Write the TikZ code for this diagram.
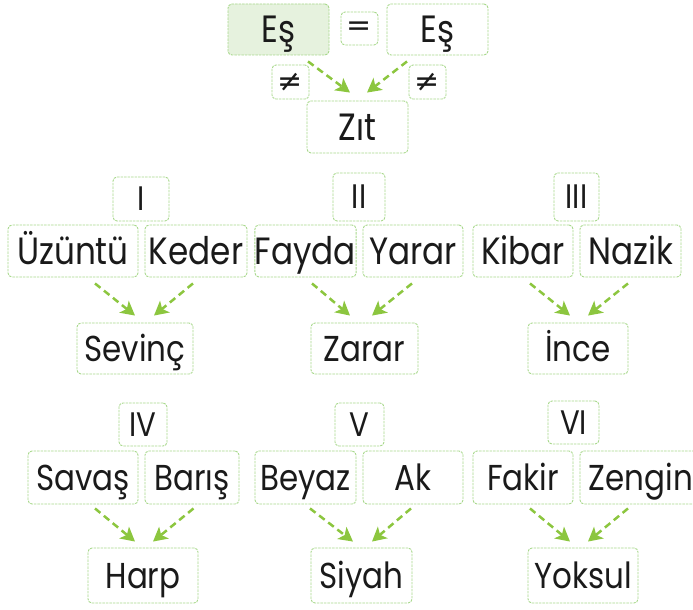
\documentclass[tikz,border=0pt]{standalone}
\usepackage{fontspec}
\usetikzlibrary{arrows.meta}
\newfontfamily\wordfont[FakeStretch=0.86]{Poppins}
\newfontfamily\symbfont{DejaVu Sans}
\definecolor{boxc}{HTML}{A8D88C}
\definecolor{fillc}{HTML}{E6F2DE}
\definecolor{arrc}{HTML}{8CC63F}
\definecolor{txtc}{HTML}{1A1A1A}
\tikzset{
  frame/.style={draw=boxc, dash pattern=on 2.5pt off 1pt, line width=0.9pt,
    rounded corners=4pt, inner sep=0pt, text=txtc},
  box/.style={frame, font=\wordfont\fontsize{36}{36}\selectfont,
    text height=25pt, text depth=0pt},
  boxL/.style={frame, font=\wordfont\fontsize{38}{38}\selectfont,
    text height=26.5pt, text depth=0pt},
  numbox/.style={frame, font=\wordfont\fontsize{34}{34}\selectfont,
    text height=23.7pt, text depth=0pt},
  symbox/.style={frame, font=\symbfont\fontsize{30}{30}\selectfont},
  arr/.style={draw=arrc, line width=2.5pt, dash pattern=on 7pt off 4.5pt,
    -{Stealth[length=14pt,width=15pt,inset=3.5pt]}},
}
\newcommand{\bx}[7]{% style, name, x1, y1, x2, y2, text
  \node[#1, minimum width={#5-#3}, minimum height={#6-#4}] (#2) at ({(#3+#5)/2},{(#4+#6)/2}) {#7};}
\begin{document}
\begin{tikzpicture}[x=1pt,y=-1pt]
\useasboundingbox (0,0) rectangle (693,610);
% top
\bx{boxL,fill=fillc}{esa}{228}{4}{329}{55}{Eş}
\bx{symbox}{eq}{341}{12}{378}{45}{=}
\bx{boxL}{esb}{387}{4}{488}{55}{Eş}
\bx{symbox}{nea}{272}{65}{309}{99}{≠}
\bx{symbox}{neb}{409}{65}{446}{99}{≠}
\bx{boxL}{zit}{307}{101}{408}{153}{Zıt}
\draw[arr] ([xshift=29.5pt,yshift=-6pt]esa.south) -- ([xshift=-7.5pt,yshift=8pt]zit.north);
\draw[arr] ([xshift=-30.5pt,yshift=-6pt]esb.south) -- ([xshift=9.5pt,yshift=8pt]zit.north);
% group I
\bx{numbox}{n1}{113}{177}{169}{221}{I}
\bx{boxL}{a1}{8}{225}{138}{277}{Üzüntü}
\bx{boxL}{b1}{145}{225}{247}{277}{Keder}
\bx{box}{c1}{77}{323}{193}{374}{Sevinç}
\draw[arr] ([xshift=22pt,yshift=-6pt]a1.south) -- ([xshift=0pt,yshift=7pt]c1.north);
\draw[arr] ([xshift=-3pt,yshift=-6pt]b1.south) -- ([xshift=19pt,yshift=7pt]c1.north);
% group II
\bx{numbox}{n2}{333}{173}{385}{221}{II}
\bx{boxL}{a2}{255}{225}{356}{277}{Fayda}
\bx{boxL}{b2}{363}{225}{463}{277}{Yarar}
\bx{box}{c2}{311}{323}{418}{374}{Zarar}
\draw[arr] ([xshift=6.5pt,yshift=-6pt]a2.south) -- ([xshift=-14.5pt,yshift=7pt]c2.north);
\draw[arr] ([xshift=-1pt,yshift=-6pt]b2.south) -- ([xshift=7.5pt,yshift=7pt]c2.north);
% group III
\bx{numbox}{n3}{554}{173}{599}{221}{III}
\bx{boxL}{a3}{473}{225}{573}{277}{Kibar}
\bx{boxL}{b3}{580}{225}{681}{277}{Nazik}
\bx{box}{c3}{528}{323}{628}{374}{İnce}
\draw[arr] ([xshift=7pt,yshift=-6pt]a3.south) -- ([xshift=-8pt,yshift=7pt]c3.north);
\draw[arr] ([xshift=-2.5pt,yshift=-6pt]b3.south) -- ([xshift=10pt,yshift=7pt]c3.north);
% group IV
\bx{numbox}{n4}{119}{403}{167}{446}{IV}
\bx{box}{a4}{28}{451}{138}{504}{Savaş}
\bx{box}{b4}{145}{451}{239}{504}{Barış}
\bx{box}{c4}{88}{548}{198}{603}{Harp}
\draw[arr] ([xshift=12pt,yshift=-4pt]a4.south) -- ([xshift=-8pt,yshift=6pt]c4.north);
\draw[arr] ([xshift=1.5pt,yshift=-4pt]b4.south) -- ([xshift=10pt,yshift=6pt]c4.north);
% group V
\bx{numbox}{n5}{335}{403}{384}{446}{V}
\bx{box}{a5}{255}{451}{356}{504}{Beyaz}
\bx{box}{b5}{363}{451}{463}{504}{Ak}
\bx{box}{c5}{311}{548}{412}{603}{Siyah}
\draw[arr] ([xshift=4.5pt,yshift=-4pt]a5.south) -- ([xshift=-8.5pt,yshift=6pt]c5.north);
\draw[arr] ([xshift=-2pt,yshift=-4pt]b5.south) -- ([xshift=10.5pt,yshift=6pt]c5.north);
% group VI
\bx{numbox}{n6}{548}{401}{599}{444}{VI}
\bx{box}{a6}{473}{451}{573}{504}{Fakir}
\bx{box}{b6}{580}{451}{702}{504}{Zengin}
\bx{box}{c6}{528}{548}{638}{603}{Yoksul}
\draw[arr] ([xshift=7pt,yshift=-4pt]a6.south) -- ([xshift=-13pt,yshift=6pt]c6.north);
\draw[arr] ([xshift=-13pt,yshift=-4pt]b6.south) -- ([xshift=5pt,yshift=6pt]c6.north);
\end{tikzpicture}
\end{document}
